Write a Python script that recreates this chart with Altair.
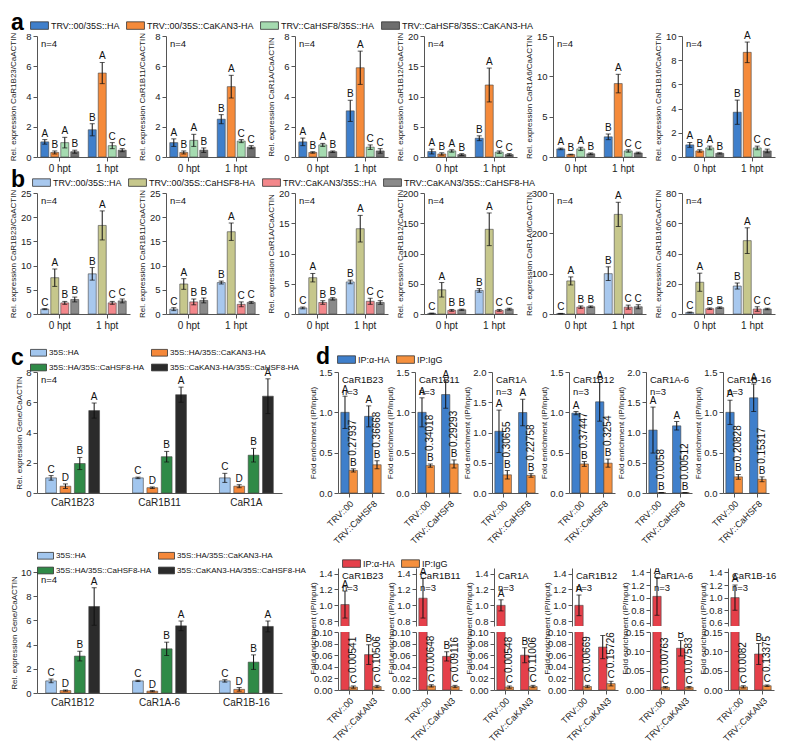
import altair as alt
import pandas as pd

FONT = '"Liberation Sans", Arial, sans-serif'

# ---------------- panel a ----------------
TIMES = ["0 hpt", "1 hpt"]
A_GENES = ["CaR1B23", "CaR1B11", "CaR1A", "CaR1B12", "CaR1A6", "CaR1B16"]
A_GROUPS = ["TRV::00/35S::HA", "TRV::00/35S::CaKAN3-HA",
            "TRV::CaHSF8/35S::HA", "TRV::CaHSF8/35S::CaKAN3-HA"]
A_COLORS = ["#3f7fcb", "#f58a3a", "#a5dbb0", "#6e6e6e"]
A_YMAX = [8, 8, 8, 20, 15, 10]
A_YSTEP = [2, 2, 2, 5, 5, 2]
A_MEAN = [
    [1.0, 0.3, 0.95, 0.35, 1.8, 5.55, 0.75, 0.45],
    [0.95, 0.3, 1.1, 0.45, 2.5, 4.65, 1.05, 0.65],
    [1.0, 0.3, 0.8, 0.35, 3.05, 5.9, 0.65, 0.4],
    [0.9, 0.5, 1.0, 0.4, 3.1, 11.9, 0.8, 0.4],
    [1.0, 0.3, 1.0, 0.4, 2.5, 9.1, 0.75, 0.5],
    [1.0, 0.5, 0.75, 0.3, 3.7, 8.65, 0.75, 0.5],
]
A_ERR = [
    [0.15, 0.1, 0.35, 0.1, 0.4, 0.7, 0.2, 0.1],
    [0.25, 0.1, 0.4, 0.15, 0.3, 0.75, 0.1, 0.1],
    [0.25, 0.05, 0.1, 0.05, 0.7, 1.1, 0.15, 0.15],
    [0.4, 0.2, 0.2, 0.15, 0.4, 2.8, 0.2, 0.15],
    [0.1, 0.05, 0.2, 0.1, 0.35, 1.15, 0.15, 0.1],
    [0.2, 0.1, 0.15, 0.05, 1.0, 0.85, 0.15, 0.15],
]
A_LET = ["A", "B", "A", "B", "B", "A", "C", "C"]

# ---------------- panel b ----------------
B_GENES = A_GENES
B_GROUPS = ["TRV::00/35S::HA", "TRV::00/35S::CaHSF8-HA",
            "TRV::CaKAN3/35S::HA", "TRV::CaKAN3/35S::CaHSF8-HA"]
B_COLORS = ["#a8c8ee", "#c6c78c", "#f3878b", "#8a8a8a"]
B_YMAX = [25, 25, 20, 200, 300, 80]
B_YSTEP = [5, 5, 5, 50, 100, 20]
B_MEAN = [
    [1.0, 7.5, 2.3, 3.0, 8.3, 18.3, 2.3, 2.7],
    [1.0, 6.2, 2.5, 2.8, 6.5, 17.0, 2.0, 2.4],
    [1.0, 6.0, 1.9, 2.5, 5.3, 14.1, 2.1, 1.9],
    [1.0, 40, 6, 7, 39, 140, 6, 8],
    [1.0, 82, 17, 18, 100, 247, 17, 18],
    [1.0, 21, 3.5, 4.2, 18.5, 48.5, 3.3, 3.3],
]
B_ERR = [
    [0.1, 1.8, 0.3, 0.5, 1.3, 3.0, 0.3, 0.4],
    [0.3, 1.1, 0.6, 0.5, 0.3, 1.8, 0.5, 0.2],
    [0.15, 0.7, 0.3, 0.2, 0.3, 2.2, 0.5, 0.3],
    [0.5, 12, 1.5, 1.0, 3, 27, 1.5, 1.5],
    [0.5, 10, 3, 2, 17, 30, 5, 5],
    [0.3, 6, 0.5, 0.5, 2, 8.5, 1.5, 0.5],
]
B_LET = ["C", "A", "B", "B", "B", "A", "C", "C"]

# ---------------- panel c ----------------
C_GROUPS = ["35S::HA", "35S::HA/35S::CaKAN3-HA",
            "35S::HA/35S::CaHSF8-HA", "35S::CaKAN3-HA/35S::CaHSF8-HA"]
C_COLORS = ["#a2c6ee", "#f5883a", "#2f8a47", "#2b2b2b"]
C_GENES_TOP = ["CaR1B23", "CaR1B11", "CaR1A"]
C_GENES_BOT = ["CaR1B12", "CaR1A-6", "CaR1B-16"]
C_MEAN_TOP = [[1.0, 0.45, 1.95, 5.45], [1.0, 0.35, 2.4, 6.5], [1.0, 0.45, 2.5, 6.4]]
C_ERR_TOP = [[0.15, 0.15, 0.4, 0.5], [0.05, 0.05, 0.35, 0.5], [0.3, 0.1, 0.45, 1.15]]
C_MEAN_BOT = [[1.0, 0.2, 3.05, 7.15], [1.0, 0.15, 3.65, 5.55], [1.0, 0.3, 2.55, 5.5]]
C_ERR_BOT = [[0.15, 0.05, 0.4, 1.55], [0.05, 0.05, 0.55, 0.4], [0.1, 0.15, 0.6, 0.45]]
C_LET = ["C", "D", "B", "A"]

# ---------------- panel d ----------------
D_IPS = ["IP:\u03b1-HA", "IP:IgG"]
D_TOP_GENES = ["CaR1B23", "CaR1B11", "CaR1A", "CaR1B12", "CaR1A-6", "CaR1B-16"]
D_TOP_CONDS = ["TRV::00", "TRV::CaHSF8"]
D_TOP_COLORS = ["#3f7fcb", "#f5903e"]
D_TOP_YMAX = [1.5, 1.5, 2.0, 1.5, 2.0, 1.5]
D_TOP_MEAN = [
    [1.0, 0.28, 0.95, 0.35],
    [1.0, 0.34, 1.22, 0.36],
    [1.02, 0.3, 1.33, 0.29],
    [0.99, 0.36, 1.13, 0.37],
    [1.04, 0.006, 1.11, 0.005],
    [1.0, 0.2, 1.18, 0.17],
]
D_TOP_ERR = [
    [0.2, 0.02, 0.13, 0.05],
    [0.18, 0.02, 0.17, 0.05],
    [0.35, 0.07, 0.22, 0.03],
    [0.02, 0.03, 0.24, 0.05],
    [0.38, 0.001, 0.07, 0.001],
    [0.15, 0.03, 0.17, 0.03],
]
D_TOP_LET = ["A", "B", "A", "B"]
D_TOP_NUM = [["0.27937", "0.36668"], ["0.34018", "0.29293"], ["0.30655", "0.22758"],
             ["0.37447", "0.3254"], ["0.0058", "0.00512"], ["0.20828", "0.15317"]]

D_BOT_CONDS = ["TRV::00", "TRV::CaKAN3"]
D_BOT_COLORS = ["#e5404a", "#f5903e"]
D_BOT_MEAN = [
    [1.01, 0.005, 0.061, 0.006],
    [1.09, 0.007, 0.058, 0.006],
    [1.0, 0.005, 0.06, 0.006],
    [1.0, 0.006, 0.074, 0.011],
    [1.02, 0.007, 0.108, 0.007],
    [1.0, 0.008, 0.093, 0.011],
]
D_BOT_ERR = [
    [0.17, 0.002, 0.017, 0.002],
    [0.25, 0.002, 0.008, 0.002],
    [0.07, 0.002, 0.013, 0.002],
    [0.13, 0.002, 0.02, 0.004],
    [0.3, 0.002, 0.02, 0.002],
    [0.2, 0.003, 0.027, 0.002],
]
D_BOT_LET = ["A", "C", "B", "C"]
D_BOT_NUM = [["0.00541", "0.10506"], ["0.00648", "0.09116"], ["0.00548", "0.11006"],
             ["0.00669", "0.15726"], ["0.00763", "0.07583"], ["0.0082", "0.13375"]]
D_BOT_UP_DOM = [[0.74, 1.47]] * 4 + [[0.55, 1.47]] * 2
D_BOT_UP_TICKS = [[0.8, 1.0, 1.2, 1.4]] * 4 + [[0.6, 0.8, 1.0, 1.2, 1.4]] * 2
D_BOT_LO_DOM = [[0, 0.1]] * 4 + [[0, 0.15]] * 2
D_BOT_LO_TICKS = [[0, 0.02, 0.04, 0.06, 0.08, 0.1]] * 4 + [[0, 0.05, 0.1, 0.15]] * 2

SYMBOL = "M-1,-0.42H1V0.42H-1Z"


def make_df(cats, groups, means, errs, lets, nums=None):
    rows = []
    k = 0
    for ci, c in enumerate(cats):
        for gi, g in enumerate(groups):
            m, e = means[k], errs[k]
            num = ""
            if nums is not None and gi == 1:
                num = nums[ci]
            rows.append({"cat": c, "grp": g, "mean": m, "err": e,
                         "lo": m - e, "hi": m + e, "letter": lets[k], "num": num})
            k += 1
    return pd.DataFrame(rows)


def legend_obj(title, columns, lx, ly, fs=9, sym=320):
    kw = dict(orient="none", legendX=lx, legendY=ly, direction="horizontal",
              columns=columns, symbolType=SYMBOL, symbolSize=sym,
              symbolStrokeColor="#333", symbolStrokeWidth=0.8, symbolOpacity=1,
              labelFont=FONT, labelFontSize=fs, labelColor="#111", labelLimit=400,
              labelOffset=2, columnPadding=4, rowPadding=1, padding=0)
    if title:
        kw.update(title=title, titleOrient="left", titleFontSize=23,
                  titleFontWeight="bold", titleFont=FONT, titlePadding=6,
                  titleColor="#000", titleAnchor="middle", titleBaseline="middle")
    else:
        kw.update(title=None)
    return alt.Legend(**kw)


def bar_layer(df, cats, groups, colors, ydom, yticks, yfmt, ytitle, width, height,
              legend, corner_text, xaxis, xpad=(0.2, 0.08), opad=0.2, clip=False,
              nums=False, title_y=None, letters=True, extent=None):
    xenc = alt.X("cat:N", sort=cats, title=None,
                 scale=alt.Scale(domain=cats, paddingInner=xpad[0], paddingOuter=xpad[1]),
                 axis=xaxis)
    oenc = alt.XOffset("grp:N", sort=groups, scale=alt.Scale(domain=groups, paddingInner=opad))
    ax = dict(values=yticks, format=yfmt, title=ytitle, titleFontSize=8,
              titlePadding=2, labelFontSize=9.5)
    if extent is not None:
        ax["minExtent"] = extent
        ax["maxExtent"] = extent
    if title_y is not None:
        ax["titleY"] = title_y
    yscale = alt.Scale(domain=ydom, nice=False, zero=False)

    def Y(f):
        return alt.Y(f, scale=yscale, axis=alt.Axis(**ax))

    base = alt.Chart(df)
    layers = [
        base.mark_bar(stroke="#444", strokeWidth=0.6, clip=clip).encode(
            x=xenc, xOffset=oenc, y=Y("mean:Q"),
            color=alt.Color("grp:N", sort=groups,
                            scale=alt.Scale(domain=groups, range=colors), legend=legend)),
        base.mark_rule(color="#111", strokeWidth=1, clip=clip).encode(
            x=xenc, xOffset=oenc, y=Y("lo:Q"), y2="hi:Q"),
        base.mark_tick(color="#111", size=5, thickness=1, clip=clip).encode(
            x=xenc, xOffset=oenc, y=Y("hi:Q")),
        base.mark_tick(color="#111", size=5, thickness=1, clip=clip).encode(
            x=xenc, xOffset=oenc, y=Y("lo:Q")),
    ]
    if letters:
        layers.append(base.mark_text(baseline="bottom", dy=-1, fontSize=10, font=FONT,
                                     color="#111", clip=clip).encode(
            x=xenc, xOffset=oenc, y=Y("hi:Q"), text="letter:N"))
    if nums:
        layers.append(base.transform_filter(alt.datum.num != "").mark_text(
            angle=270, align="left", baseline="middle", dx=13, fontSize=10, font=FONT,
            color="#111", clip=clip).encode(
            x=xenc, xOffset=oenc, y=Y("hi:Q"), text="num:N"))
    if corner_text:
        layers.append(alt.Chart(pd.DataFrame({"t": [corner_text]})).mark_text(
            align="left", baseline="top", fontSize=9.5, font=FONT, color="#111",
            lineBreak="\n").encode(x=alt.value(4), y=alt.value(3), text="t:N"))
    return alt.layer(*layers).properties(width=width, height=height)


def rng(mx, st):
    out = []
    v = 0
    while v <= mx + 1e-9:
        out.append(v)
        v += st
    return out


X_TIME_AXIS = alt.Axis(labelAngle=0, labelFontSize=10, tickSize=4, labelPadding=2)
H = 121

# rows a and b
leg_a = legend_obj("a", 4, -26, -20)
a_charts = []
for i, g in enumerate(A_GENES):
    df = make_df(TIMES, A_GROUPS, A_MEAN[i], A_ERR[i], A_LET)
    a_charts.append(bar_layer(df, TIMES, A_GROUPS, A_COLORS, [0, A_YMAX[i]],
                              rng(A_YMAX[i], A_YSTEP[i]), "d",
                              f"Rel. expression {g}/CaACTIN", 93, H, leg_a, "n=4",
                              X_TIME_AXIS, extent=18))
rowA = alt.hconcat(*a_charts, spacing=36, bounds="flush").resolve_scale(xOffset="independent")

leg_b = legend_obj("b", 4, -26, -20)
b_charts = []
for i, g in enumerate(B_GENES):
    df = make_df(TIMES, B_GROUPS, B_MEAN[i], B_ERR[i], B_LET)
    b_charts.append(bar_layer(df, TIMES, B_GROUPS, B_COLORS, [0, B_YMAX[i]],
                              rng(B_YMAX[i], B_YSTEP[i]), "d",
                              f"Rel. expression {g}/CaACTIN", 93, H, leg_b, "n=4",
                              X_TIME_AXIS, extent=18))
rowB = alt.hconcat(*b_charts, spacing=36, bounds="flush").resolve_scale(xOffset="independent")

# panel c
X_GENE_AXIS = alt.Axis(labelAngle=0, labelFontSize=10, ticks=False, labelPadding=4)
c_top_df = make_df(C_GENES_TOP, C_GROUPS, sum(C_MEAN_TOP, []), sum(C_ERR_TOP, []), C_LET * 3)
c_bot_df = make_df(C_GENES_BOT, C_GROUPS, sum(C_MEAN_BOT, []), sum(C_ERR_BOT, []), C_LET * 3)
cTop = bar_layer(c_top_df, C_GENES_TOP, C_GROUPS, C_COLORS, [0, 8], rng(8, 2), "d",
                 "Rel. expression Gene/CaACTIN", 245, H,
                 legend_obj("c", 2, -26, -28, fs=8, sym=256),
                 "n=4", X_GENE_AXIS, xpad=(0.38, 0.1), opad=0.25)
cBot = bar_layer(c_bot_df, C_GENES_BOT, C_GROUPS, C_COLORS, [0, 10], rng(10, 2), "d",
                 "Rel. expression Gene/CaACTIN", 245, H,
                 legend_obj(None, 2, 0, -25, fs=8, sym=256),
                 "n=4", X_GENE_AXIS, xpad=(0.38, 0.1), opad=0.25)
colC = alt.vconcat(cTop, cBot, spacing=40).resolve_scale(color="independent",
                                                         xOffset="independent")

# panel d
X_ROT_AXIS = alt.Axis(labelAngle=315, labelFontSize=9, tickSize=4, labelPadding=2)
leg_d = legend_obj("d", 2, -22, -22)
d_top = []
for i, g in enumerate(D_TOP_GENES):
    df = make_df(D_TOP_CONDS, D_IPS, D_TOP_MEAN[i], D_TOP_ERR[i], D_TOP_LET * 2, D_TOP_NUM[i])
    d_top.append(bar_layer(df, D_TOP_CONDS, D_IPS, D_TOP_COLORS, [0, D_TOP_YMAX[i]],
                           rng(D_TOP_YMAX[i], 0.5), ".1f", "Fold enrichment (IP/Input)",
                           46, H, leg_d, f"{g}\nn=3", X_ROT_AXIS,
                           xpad=(0.3, 0.12), opad=0.0, nums=True, extent=19))
dTop = alt.hconcat(*d_top, spacing=2).resolve_scale(xOffset="independent")

leg_d2 = legend_obj(None, 2, 4, -14)
d_bot = []
for i, g in enumerate(D_TOP_GENES):
    df = make_df(D_BOT_CONDS, D_IPS, D_BOT_MEAN[i], D_BOT_ERR[i], D_BOT_LET * 2, D_BOT_NUM[i])
    df_up = df[df["mean"] > 0.5]
    up = bar_layer(df_up, D_BOT_CONDS, D_IPS, D_BOT_COLORS, D_BOT_UP_DOM[i],
                   D_BOT_UP_TICKS[i], ".1f", None, 46, 58, leg_d2, f"{g}\nn=3", None,
                   xpad=(0.3, 0.12), opad=0.0, clip=True, extent=19)
    lo = bar_layer(df, D_BOT_CONDS, D_IPS, D_BOT_COLORS, D_BOT_LO_DOM[i],
                   D_BOT_LO_TICKS[i], ".2f", "Fold enrichment (IP/Input)", 46, 58, leg_d2,
                   None, X_ROT_AXIS, xpad=(0.3, 0.12), opad=0.0, clip=True, nums=True,
                   title_y=-4, extent=19)
    d_bot.append(alt.vconcat(up, lo, spacing=6, bounds="flush").resolve_scale(
        xOffset="independent"))
dBot = alt.hconcat(*d_bot, spacing=2).resolve_scale(xOffset="independent")
colD = alt.vconcat(dTop, dBot, spacing=8).resolve_scale(color="independent",
                                                        xOffset="independent")

rowCD = alt.hconcat(colC, colD, spacing=2).resolve_scale(color="independent",
                                                         xOffset="independent")

rowsAB = alt.vconcat(rowA, rowB, spacing=0).resolve_scale(color="independent",
                                                          xOffset="independent")

chart = alt.vconcat(rowsAB, rowCD, spacing=14).resolve_scale(
    color="independent", xOffset="independent"
).configure_view(stroke=None).configure_axis(
    grid=False, domainColor="#555", tickColor="#555", labelColor="#222",
    titleColor="#222", labelFont=FONT, titleFont=FONT, titleFontWeight="normal",
    tickSize=4
).configure_text(font=FONT).properties(
    padding={"top": 8, "left": 0, "right": 0, "bottom": 0})

chart.save("out.html", embed_options={"renderer": "svg", "actions": False})
